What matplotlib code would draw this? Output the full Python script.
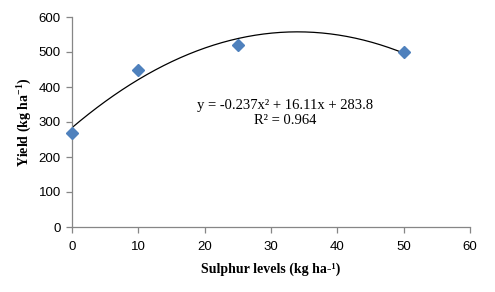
import matplotlib
matplotlib.use("Agg")
import matplotlib.pyplot as plt
import numpy as np

plt.rcParams['mathtext.fontset'] = 'custom'
plt.rcParams['mathtext.rm'] = 'Liberation Serif'
plt.rcParams['mathtext.bf'] = 'Liberation Serif:bold'

sulphur = [0, 10, 25, 50]
yield_vals = [270, 448, 520, 500]
coef = [-0.237, 16.11, 283.8]  # quadratic trendline coefficients
x_ticks = [0, 10, 20, 30, 40, 50, 60]
y_ticks = [0, 100, 200, 300, 400, 500, 600]

fig = plt.figure(figsize=(4.95, 2.92), dpi=100)
ax = fig.add_axes([72/495, 1-227/292, (470-72)/495, (227-17)/292])

xs = np.linspace(min(sulphur), max(sulphur), 200)
ax.plot(xs, np.polyval(coef, xs), color='black', lw=0.9, zorder=2)
ax.plot(sulphur, yield_vals, linestyle='none', marker='D', markersize=6,
        color='#4F81BD', markeredgecolor='#4F81BD', zorder=3, clip_on=False)

ax.set_xlim(0, 60)
ax.set_ylim(0, 600)
ax.set_xticks(x_ticks)
ax.set_yticks(y_ticks)
tickfont = dict(family=['Liberation Sans Narrow', 'Liberation Sans', 'DejaVu Sans'], size=9.5)
ax.set_xticklabels([str(v) for v in x_ticks], **tickfont)
ax.set_yticklabels([str(v) for v in y_ticks], **tickfont)
for s in ['top', 'right']:
    ax.spines[s].set_visible(False)
for s in ['left', 'bottom']:
    ax.spines[s].set_color('#868686')
    ax.spines[s].set_linewidth(0.9)
ax.tick_params(direction='out', length=4, width=0.9, color='#868686', labelcolor='black', pad=4)
ax.tick_params(axis='x', pad=6)

ax.set_xlabel('Sulphur levels (kg ha-¹)', family='Liberation Serif', fontweight='bold', fontsize=10, labelpad=7)
ax.set_ylabel('Yield (kg ha$^{\\mathbf{-1}}$)', family='Liberation Serif', fontweight='bold', fontsize=10, labelpad=4)

fig.text(285/495, 1-113/292, 'y = -0.237x² + 16.11x + 283.8\nR² = 0.964', ha='center', va='center',
         multialignment='center', family='Liberation Serif', fontsize=10.5, linespacing=1.3)

fig.savefig('out.png', dpi=100)
